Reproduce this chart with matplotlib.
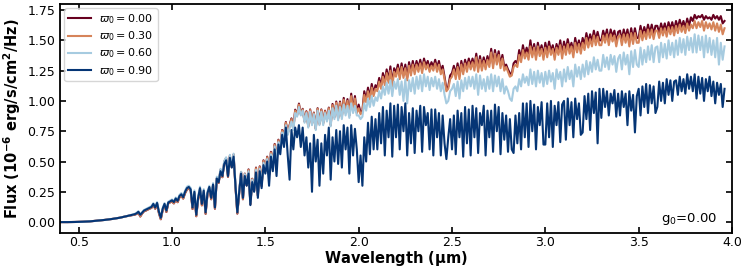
import numpy as np
import matplotlib
matplotlib.use("Agg")
import matplotlib.pyplot as plt

# wavelength grid (micron): coarse where the spectrum is smooth, 0.01 after 0.8
wavelength = np.round(np.concatenate([np.arange(0.40, 0.79, 0.04),
                                      np.arange(0.80, 3.965, 0.01)]), 2)

# 0.40 - 0.76 um : all four spectra overlap
flux_smooth = [0.000, 0.000, 0.001, 0.003, 0.006, 0.012, 0.018, 0.026, 0.036, 0.050]

flux_w090 = flux_smooth + [
    0.065, 0.072, 0.085, 0.060, 0.078, 0.095, 0.102, 0.110, 0.118, 0.125,
    0.150, 0.120, 0.158, 0.085, 0.035, 0.110, 0.150, 0.095, 0.162, 0.170,
    0.180, 0.165, 0.195, 0.175, 0.215, 0.230, 0.205, 0.250, 0.280, 0.290,
    0.270, 0.120, 0.250, 0.060, 0.200, 0.280, 0.150, 0.260, 0.080, 0.240,
    0.290, 0.200, 0.310, 0.120, 0.360, 0.330, 0.420, 0.380, 0.480, 0.510,
    0.380, 0.530, 0.450, 0.540, 0.300, 0.080, 0.250, 0.400, 0.200, 0.380,
    0.300, 0.400, 0.140, 0.330, 0.250, 0.410, 0.200, 0.420, 0.280, 0.470,
    0.400, 0.500, 0.300, 0.540, 0.420, 0.600, 0.380, 0.640, 0.560, 0.720,
    0.620, 0.780, 0.550, 0.350, 0.760, 0.600, 0.780, 0.700, 0.800, 0.620,
    0.780, 0.550, 0.700, 0.450, 0.650, 0.250, 0.720, 0.500, 0.680, 0.300,
    0.650, 0.400, 0.720, 0.550, 0.780, 0.350, 0.700, 0.500, 0.760, 0.480,
    0.750, 0.450, 0.800, 0.600, 0.780, 0.400, 0.800, 0.550, 0.770, 0.600,
    0.330, 0.550, 0.300, 0.700, 0.500, 0.820, 0.560, 0.870, 0.600, 0.850,
    0.600, 0.900, 0.650, 0.950, 0.550, 0.920, 0.700, 0.980, 0.540, 0.960,
    0.700, 0.970, 0.600, 0.950, 0.750, 0.980, 0.550, 0.900, 0.650, 0.940,
    0.570, 0.920, 0.750, 0.960, 0.580, 0.950, 0.800, 0.900, 0.600, 0.930,
    0.550, 0.930, 0.700, 0.900, 0.550, 0.880, 0.650, 0.520, 0.700, 0.850,
    0.600, 0.880, 0.560, 0.920, 0.700, 0.900, 0.540, 0.950, 0.650, 0.930,
    0.550, 0.960, 0.700, 0.940, 0.570, 0.900, 0.800, 0.960, 0.550, 0.920,
    0.700, 0.920, 0.580, 0.970, 0.750, 0.950, 0.560, 0.900, 0.680, 0.880,
    0.580, 0.850, 0.600, 0.570, 0.880, 0.650, 0.900, 0.600, 0.980, 0.700,
    0.980, 0.620, 1.000, 0.750, 0.970, 0.600, 0.950, 0.800, 0.990, 0.640,
    0.640, 0.980, 0.700, 1.000, 0.620, 0.960, 0.800, 0.990, 0.660, 0.970,
    1.000, 0.680, 1.020, 0.800, 0.990, 0.700, 1.020, 0.850, 0.980, 0.720,
    0.740, 1.040, 0.850, 1.060, 0.760, 1.080, 0.900, 1.070, 0.650, 1.100,
    0.860, 1.100, 0.950, 1.080, 0.880, 1.060, 0.980, 1.090, 0.870, 1.060,
    0.880, 1.080, 0.950, 1.060, 0.800, 1.080, 0.920, 1.050, 0.740, 1.040,
    1.100, 0.880, 1.120, 0.950, 1.140, 0.900, 1.130, 0.980, 1.120, 0.900,
    0.950, 1.160, 1.000, 1.150, 0.980, 1.180, 1.050, 1.170, 1.000, 1.160,
    1.170, 1.050, 1.200, 1.080, 1.180, 1.060, 1.220, 1.100, 1.200, 1.080,
    1.220, 1.020, 1.200, 1.060, 1.190, 1.000, 1.180, 1.080, 1.200, 1.040,
    1.160, 0.980, 1.150, 1.050, 1.140, 0.950, 1.100]

flux_w060 = flux_smooth + [
    0.068, 0.076, 0.090, 0.064, 0.082, 0.100, 0.108, 0.116, 0.124, 0.132,
    0.156, 0.126, 0.165, 0.090, 0.040, 0.116, 0.157, 0.100, 0.168, 0.177,
    0.187, 0.172, 0.203, 0.183, 0.224, 0.240, 0.214, 0.260, 0.292, 0.300,
    0.282, 0.130, 0.262, 0.068, 0.210, 0.292, 0.160, 0.272, 0.088, 0.252,
    0.300, 0.210, 0.322, 0.130, 0.375, 0.345, 0.440, 0.395, 0.505, 0.535,
    0.395, 0.555, 0.470, 0.565, 0.315, 0.088, 0.262, 0.415, 0.210, 0.395,
    0.315, 0.420, 0.160, 0.350, 0.270, 0.430, 0.230, 0.440, 0.310, 0.490,
    0.430, 0.520, 0.400, 0.560, 0.500, 0.625, 0.520, 0.660, 0.620, 0.740,
    0.700, 0.800, 0.720, 0.780, 0.830, 0.760, 0.900, 0.870, 0.950, 0.880,
    0.920, 0.820, 0.900, 0.780, 0.910, 0.800, 0.890, 0.760, 0.920, 0.800,
    0.910, 0.800, 0.900, 0.830, 0.920, 0.790, 0.940, 0.850, 0.960, 0.840,
    0.950, 0.850, 0.970, 0.880, 0.960, 0.860, 0.980, 0.900, 0.960, 0.880,
    0.880, 0.850, 0.870, 0.980, 0.920, 1.020, 0.950, 1.040, 0.960, 1.030,
    1.000, 1.080, 1.020, 1.120, 1.050, 1.150, 1.060, 1.170, 1.040, 1.160,
    1.100, 1.180, 1.050, 1.160, 1.000, 1.180, 0.980, 1.170, 1.080, 1.190,
    1.060, 1.200, 1.100, 1.210, 1.080, 1.220, 1.120, 1.200, 1.090, 1.190,
    1.120, 1.200, 1.100, 1.180, 1.080, 1.150, 1.050, 0.980, 1.000, 1.080,
    1.100, 1.140, 1.040, 1.160, 1.020, 1.170, 1.080, 1.190, 1.100, 1.200,
    1.120, 1.200, 1.100, 1.220, 1.050, 1.210, 1.100, 1.180, 1.080, 1.200,
    1.100, 1.220, 1.080, 1.210, 1.120, 1.200, 1.080, 1.180, 1.060, 1.120,
    1.080, 1.020, 1.000, 1.100, 1.120, 1.080, 1.180, 1.120, 1.220, 1.150,
    1.200, 1.130, 1.260, 1.140, 1.240, 1.120, 1.250, 1.150, 1.230, 1.120,
    1.240, 1.140, 1.250, 1.160, 1.230, 1.100, 1.260, 1.180, 1.240, 1.120,
    1.260, 1.160, 1.280, 1.180, 1.250, 1.120, 1.300, 1.200, 1.280, 1.180,
    1.300, 1.200, 1.330, 1.220, 1.320, 1.240, 1.360, 1.260, 1.340, 1.250,
    1.250, 1.380, 1.280, 1.360, 1.260, 1.380, 1.300, 1.370, 1.240, 1.350,
    1.380, 1.260, 1.400, 1.300, 1.380, 1.220, 1.410, 1.280, 1.420, 1.300,
    1.280, 1.440, 1.300, 1.420, 1.320, 1.450, 1.340, 1.460, 1.320, 1.440,
    1.450, 1.320, 1.480, 1.360, 1.470, 1.350, 1.500, 1.380, 1.480, 1.360,
    1.500, 1.380, 1.520, 1.400, 1.510, 1.380, 1.530, 1.420, 1.520, 1.400,
    1.550, 1.400, 1.540, 1.420, 1.530, 1.360, 1.540, 1.400, 1.520, 1.380,
    1.500, 1.360, 1.520, 1.300, 1.480, 1.340, 1.450]

flux_w030 = flux_smooth + [
    0.062, 0.068, 0.080, 0.048, 0.072, 0.090, 0.096, 0.104, 0.112, 0.118,
    0.145, 0.112, 0.152, 0.075, 0.025, 0.100, 0.145, 0.085, 0.156, 0.164,
    0.172, 0.156, 0.186, 0.166, 0.206, 0.220, 0.196, 0.240, 0.270, 0.280,
    0.262, 0.110, 0.240, 0.050, 0.190, 0.270, 0.140, 0.250, 0.070, 0.230,
    0.285, 0.190, 0.305, 0.112, 0.362, 0.325, 0.430, 0.372, 0.495, 0.525,
    0.375, 0.545, 0.455, 0.555, 0.295, 0.072, 0.245, 0.412, 0.190, 0.398,
    0.305, 0.430, 0.150, 0.355, 0.260, 0.445, 0.220, 0.455, 0.300, 0.505,
    0.420, 0.535, 0.390, 0.575, 0.490, 0.640, 0.510, 0.675, 0.610, 0.755,
    0.710, 0.820, 0.730, 0.795, 0.850, 0.770, 0.920, 0.880, 0.970, 0.890,
    0.930, 0.830, 0.910, 0.790, 0.925, 0.810, 0.900, 0.770, 0.935, 0.810,
    0.925, 0.815, 0.915, 0.845, 0.940, 0.800, 0.965, 0.865, 0.985, 0.855,
    0.985, 0.870, 1.010, 0.900, 1.000, 0.880, 1.040, 0.920, 1.020, 0.900,
    0.940, 0.890, 0.910, 1.050, 0.990, 1.080, 1.010, 1.110, 1.040, 1.100,
    1.080, 1.160, 1.100, 1.200, 1.130, 1.230, 1.150, 1.250, 1.120, 1.240,
    1.200, 1.270, 1.180, 1.280, 1.190, 1.270, 1.170, 1.290, 1.210, 1.300,
    1.220, 1.300, 1.240, 1.310, 1.230, 1.320, 1.260, 1.300, 1.240, 1.290,
    1.250, 1.310, 1.240, 1.300, 1.220, 1.260, 1.180, 1.080, 1.100, 1.180,
    1.200, 1.260, 1.180, 1.280, 1.180, 1.300, 1.220, 1.310, 1.240, 1.320,
    1.260, 1.320, 1.250, 1.360, 1.240, 1.340, 1.250, 1.330, 1.260, 1.340,
    1.280, 1.400, 1.270, 1.390, 1.300, 1.380, 1.270, 1.350, 1.250, 1.280,
    1.240, 1.200, 1.210, 1.280, 1.300, 1.280, 1.380, 1.320, 1.420, 1.350,
    1.400, 1.340, 1.450, 1.360, 1.440, 1.340, 1.450, 1.370, 1.430, 1.340,
    1.440, 1.360, 1.450, 1.380, 1.430, 1.340, 1.440, 1.380, 1.460, 1.350,
    1.450, 1.380, 1.470, 1.390, 1.450, 1.360, 1.480, 1.400, 1.470, 1.390,
    1.480, 1.420, 1.520, 1.440, 1.510, 1.450, 1.540, 1.460, 1.530, 1.460,
    1.460, 1.540, 1.480, 1.550, 1.460, 1.550, 1.490, 1.540, 1.450, 1.530,
    1.540, 1.460, 1.550, 1.480, 1.550, 1.450, 1.560, 1.470, 1.560, 1.480,
    1.480, 1.580, 1.500, 1.570, 1.510, 1.590, 1.520, 1.590, 1.510, 1.580,
    1.580, 1.520, 1.600, 1.540, 1.600, 1.530, 1.610, 1.550, 1.610, 1.540,
    1.620, 1.560, 1.630, 1.570, 1.620, 1.560, 1.640, 1.580, 1.630, 1.600,
    1.660, 1.600, 1.650, 1.610, 1.660, 1.580, 1.650, 1.600, 1.640, 1.590,
    1.650, 1.580, 1.640, 1.570, 1.630, 1.550, 1.600]

flux_w000 = flux_smooth + [
    0.061, 0.067, 0.079, 0.046, 0.071, 0.089, 0.095, 0.103, 0.111, 0.117,
    0.144, 0.110, 0.151, 0.073, 0.023, 0.098, 0.144, 0.083, 0.155, 0.163,
    0.170, 0.154, 0.184, 0.164, 0.204, 0.218, 0.194, 0.238, 0.268, 0.278,
    0.260, 0.108, 0.238, 0.048, 0.188, 0.268, 0.138, 0.248, 0.068, 0.228,
    0.283, 0.188, 0.303, 0.110, 0.362, 0.323, 0.432, 0.370, 0.498, 0.528,
    0.373, 0.548, 0.453, 0.558, 0.293, 0.070, 0.243, 0.414, 0.188, 0.400,
    0.303, 0.435, 0.148, 0.358, 0.258, 0.450, 0.218, 0.460, 0.298, 0.510,
    0.418, 0.540, 0.388, 0.580, 0.488, 0.645, 0.508, 0.680, 0.608, 0.760,
    0.712, 0.826, 0.731, 0.800, 0.856, 0.771, 0.928, 0.882, 0.978, 0.892,
    0.935, 0.832, 0.915, 0.791, 0.930, 0.812, 0.904, 0.771, 0.940, 0.812,
    0.930, 0.818, 0.920, 0.848, 0.945, 0.802, 0.975, 0.868, 0.995, 0.858,
    0.995, 0.873, 1.025, 0.905, 1.015, 0.882, 1.060, 0.925, 1.040, 0.905,
    0.970, 0.905, 0.920, 1.080, 1.010, 1.110, 1.030, 1.140, 1.060, 1.130,
    1.110, 1.190, 1.120, 1.230, 1.160, 1.260, 1.170, 1.285, 1.140, 1.270,
    1.230, 1.300, 1.210, 1.310, 1.220, 1.300, 1.195, 1.320, 1.240, 1.330,
    1.250, 1.330, 1.270, 1.340, 1.260, 1.350, 1.290, 1.330, 1.270, 1.320,
    1.280, 1.340, 1.270, 1.330, 1.250, 1.290, 1.200, 1.100, 1.120, 1.210,
    1.230, 1.290, 1.220, 1.310, 1.210, 1.330, 1.250, 1.340, 1.280, 1.350,
    1.290, 1.350, 1.280, 1.390, 1.270, 1.370, 1.280, 1.360, 1.290, 1.370,
    1.310, 1.430, 1.300, 1.420, 1.330, 1.410, 1.300, 1.380, 1.280, 1.300,
    1.260, 1.230, 1.220, 1.310, 1.330, 1.310, 1.420, 1.350, 1.460, 1.380,
    1.440, 1.370, 1.500, 1.390, 1.470, 1.370, 1.480, 1.400, 1.460, 1.370,
    1.480, 1.400, 1.490, 1.410, 1.460, 1.380, 1.470, 1.410, 1.500, 1.390,
    1.490, 1.420, 1.510, 1.430, 1.480, 1.400, 1.520, 1.440, 1.500, 1.430,
    1.520, 1.460, 1.560, 1.480, 1.550, 1.490, 1.580, 1.500, 1.570, 1.500,
    1.500, 1.580, 1.520, 1.590, 1.490, 1.590, 1.530, 1.580, 1.480, 1.570,
    1.580, 1.500, 1.590, 1.520, 1.590, 1.490, 1.600, 1.510, 1.600, 1.520,
    1.520, 1.620, 1.540, 1.610, 1.550, 1.630, 1.560, 1.630, 1.550, 1.620,
    1.620, 1.560, 1.640, 1.580, 1.640, 1.570, 1.650, 1.590, 1.650, 1.580,
    1.660, 1.600, 1.670, 1.610, 1.660, 1.600, 1.680, 1.620, 1.690, 1.660,
    1.710, 1.680, 1.700, 1.690, 1.710, 1.670, 1.700, 1.680, 1.690, 1.670,
    1.710, 1.680, 1.700, 1.670, 1.700, 1.640, 1.660]

albedos = ['0.00', '0.30', '0.60', '0.90']
colors = ['#67001f', '#d6845a', '#a6cbe0', '#053575']

fig = plt.figure(figsize=(7.47, 2.67), dpi=100)
ax = fig.add_axes([60 / 747, 34 / 267, 672 / 747, 229 / 267])

for flux, w0, c in zip([flux_w000, flux_w030, flux_w060, flux_w090], albedos, colors):
    ax.plot(wavelength, flux, color=c, lw=1.5, label=r'$\varpi_0 = %s$' % w0)

ax.set_xlim(0.4, 4.0)
ax.set_ylim(-0.09, 1.80)
ax.set_xticks(np.arange(0.5, 4.01, 0.5))
ax.set_yticks(np.arange(0, 1.76, 0.25))
ax.xaxis.set_major_formatter(matplotlib.ticker.FormatStrFormatter('%.1f'))
ax.yaxis.set_major_formatter(matplotlib.ticker.FormatStrFormatter('%.2f'))
ax.tick_params(direction='in', top=True, right=True, labelsize=9, length=4, width=1.2)
ax.tick_params(axis='x', pad=2.5)
for s in ax.spines.values():
    s.set_linewidth(1.3)

ax.set_xlabel(r'Wavelength ($\mathbf{\mu}$m)', fontsize=10.5, fontweight='bold', labelpad=0)
ax.set_ylabel(r'Flux (10$^{\mathbf{-6}}$ erg/s/cm$^{\mathbf{2}}$/Hz)', fontsize=10.5,
              fontweight='bold', labelpad=3)
ax.legend(loc='upper left', fontsize=8, handlelength=2.0, labelspacing=0.3,
          borderpad=0.35, borderaxespad=0.4)
ax.text(0.979, 0.026, r'g$_0$=0.00', transform=ax.transAxes, ha='right', va='bottom',
        fontsize=9.5)

fig.savefig('out.png', dpi=100)
